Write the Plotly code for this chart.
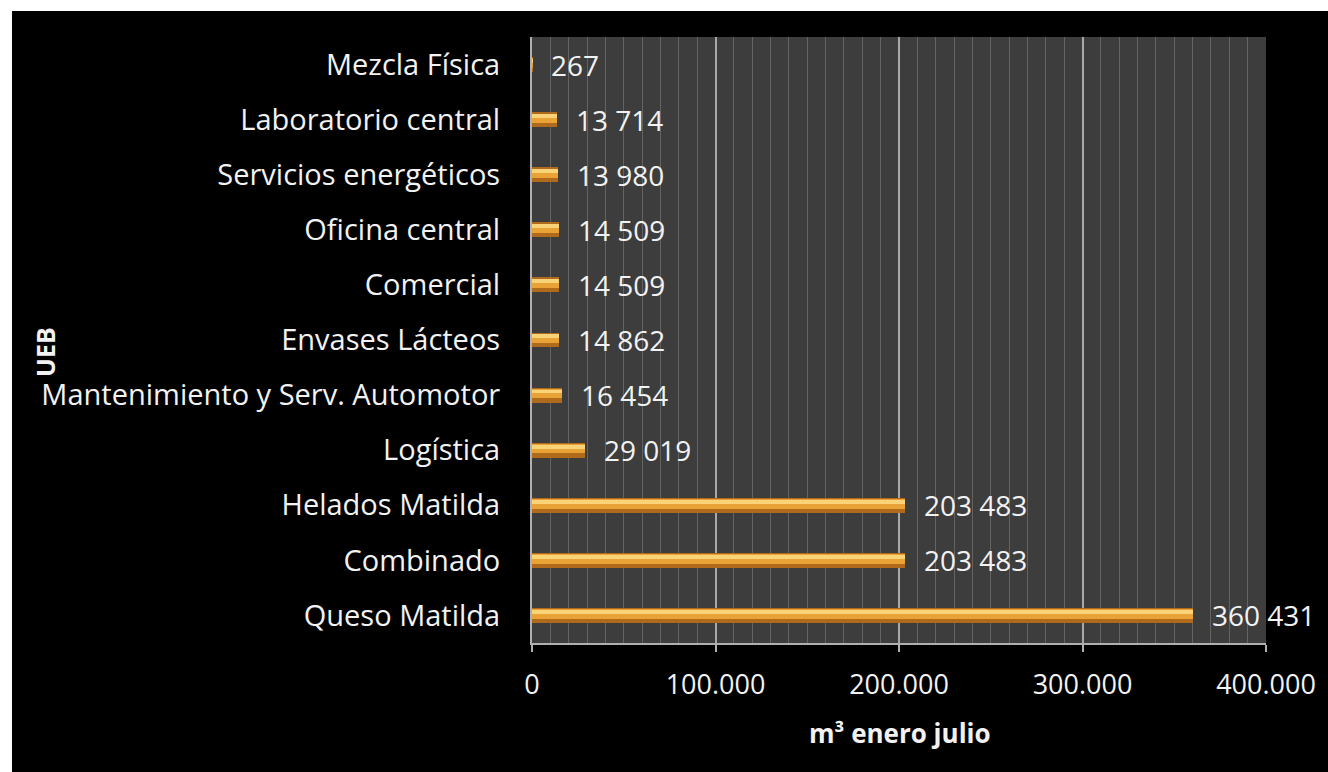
import plotly.graph_objects as go

categories = ["Queso Matilda", "Combinado", "Helados Matilda", "Logística",
              "Mantenimiento y Serv. Automotor", "Envases Lácteos", "Comercial",
              "Oficina central", "Servicios energéticos", "Laboratorio central",
              "Mezcla Física"]
values = [360431, 203483, 203483, 29019, 16454, 14862, 14509, 14509, 13980, 13714, 267]
x_ticks = [0, 100000, 200000, 300000, 400000]
x_tick_labels = ["0", "100.000", "200.000", "300.000", "400.000"]

labels = [f"{v:,}".replace(",", " ") for v in values]

FONT = "Open Sans"
W, H = 1328, 772
L, R, T, B = 532, 62, 37, 129
pw, ph = W - L - R, H - T - B

fig = go.Figure()
fig.add_trace(go.Bar(y=categories, x=values, orientation="h", width=0.27,
                     marker=dict(color="#B06A1C", line=dict(width=0)),
                     hoverinfo="skip", showlegend=False))
fig.add_trace(go.Bar(y=categories, x=values, orientation="h", width=0.17, offset=-0.06,
                     marker=dict(color="#E8A236", line=dict(width=0)),
                     hoverinfo="skip", showlegend=False))
fig.add_trace(go.Bar(y=categories, x=values, orientation="h", width=0.07, offset=0.03,
                     marker=dict(color="#F8D377", line=dict(width=0)),
                     hoverinfo="skip", showlegend=False))

for c, v, t in zip(categories, values, labels):
    fig.add_annotation(x=v, y=c, text=t, showarrow=False, xanchor="left",
                       xshift=17, font=dict(family=FONT, size=28, color="#f2f2f2"))

# axis titles
fig.add_annotation(xref="paper", yref="paper", x=(900 - L) / pw, y=(H - B - 733) / ph,
                   xanchor="center", yanchor="middle",
                   text="<b>m³ enero julio</b>", showarrow=False,
                   font=dict(family=FONT, size=26, color="#f2f2f2"))
fig.add_annotation(xref="paper", yref="paper", x=(45 - L) / pw, y=(H - B - 352) / ph,
                   xanchor="center", yanchor="middle",
                   text="<b>UEB</b>", showarrow=False, textangle=-90,
                   font=dict(family=FONT, size=25, color="#f2f2f2"))

# white frame strips (top and left)
fig.add_shape(type="rect", xref="paper", yref="paper", layer="below",
              x0=-L / pw - 0.01, x1=(W - L) / pw + 0.01,
              y0=(H - B - 11) / ph, y1=(H - B) / ph + 0.01,
              fillcolor="white", line=dict(width=0))
fig.add_shape(type="rect", xref="paper", yref="paper", layer="below",
              x0=-L / pw - 0.01, x1=(12 - L) / pw,
              y0=-B / ph - 0.01, y1=(H - B) / ph + 0.01,
              fillcolor="white", line=dict(width=0))

fig.update_layout(
    width=W, height=H,
    margin=dict(l=L, r=R, t=T, b=B),
    paper_bgcolor="black", plot_bgcolor="#3d3d3d",
    barmode="overlay", bargap=0,
    font=dict(family=FONT, size=27, color="#f2f2f2"),
    xaxis=dict(range=[0, 400000], tickvals=x_ticks, ticktext=x_tick_labels,
               showgrid=True, gridcolor="#a8a8a8", gridwidth=1.5,
               minor=dict(dtick=10000, showgrid=True, gridcolor="#636363", gridwidth=1),
               showline=True, linecolor="#b0b0b0", linewidth=2,
               ticks="outside", ticklen=7, tickcolor="#b0b0b0", tickwidth=2,
               ticklabelstandoff=10, zeroline=False,
               tickfont=dict(family=FONT, size=27, color="#f2f2f2")),
    yaxis=dict(categoryorder="array", categoryarray=categories,
               showgrid=False, showline=True, linecolor="#b0b0b0", linewidth=2,
               ticks="", ticklabelstandoff=24,
               tickfont=dict(family=FONT, size=29, color="#f2f2f2")),
)

fig.write_html("out.html")
